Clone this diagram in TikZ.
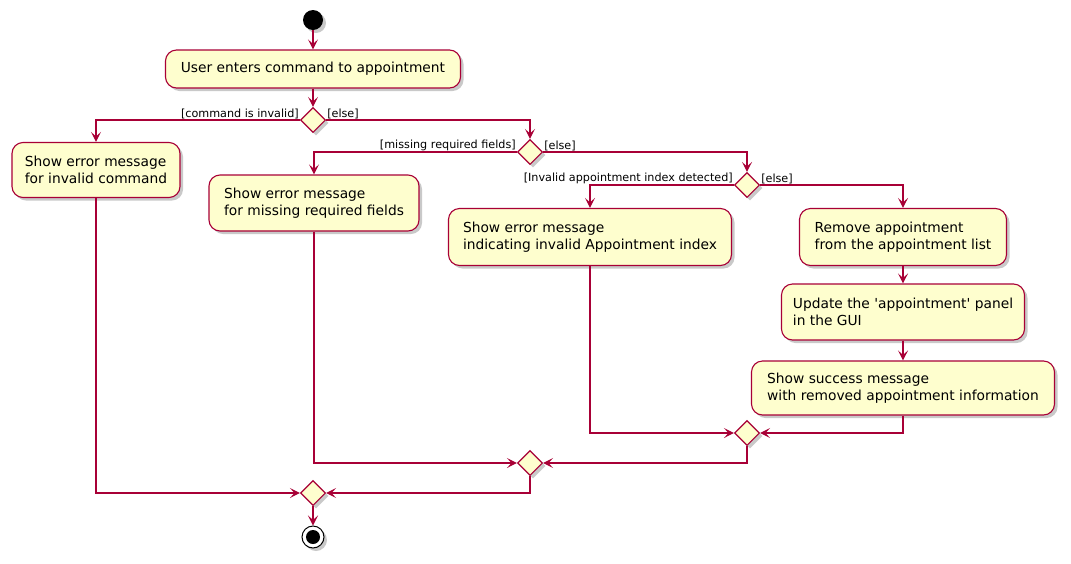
\documentclass[tikz,border=0pt]{standalone}
\usepackage{fontspec}
\setmainfont{DejaVu Sans}
\usetikzlibrary{shapes.geometric,arrows.meta,shadows,positioning}
\definecolor{umlred}{HTML}{A80036}
\definecolor{umlfill}{HTML}{FEFECE}
\tikzset{
  shad/.style={drop shadow={shadow xshift=3pt,shadow yshift=-3pt,opacity=0.35,fill=black!60}},
  actbox/.style={draw=umlred,fill=umlfill,line width=1.1pt,rounded corners=11pt,align=left,
     font=\fontsize{13.8}{17.5}\selectfont,inner sep=0pt,shad},
  dia/.style={diamond,draw=umlred,fill=umlfill,line width=1.1pt,minimum width=25pt,minimum height=25pt,inner sep=0pt,aspect=1,shad},
  lbl/.style={font=\fontsize{11.2}{13}\selectfont,inner sep=1pt},
  arr/.style={draw=umlred,line width=1.2pt,-{Stealth[length=10pt,width=10pt,inset=4.5pt]}},
}
\begin{document}
\begin{tikzpicture}[x=1pt,y=-1pt]
\useasboundingbox (0,0) rectangle (1071,563);
\fill[white] (0,0) rectangle (1071,563);
\node[circle,fill=black,minimum size=20pt,inner sep=0pt,shad] (start) at (313,20) {};
\node[actbox,minimum width=295pt,minimum height=38pt] (b1) at (313,69) {User enters command to appointment};
\node[dia] (d1) at (313,120) {};
\node[actbox,minimum width=168pt,minimum height=55pt] (einv) at (96,170) {Show error message\\for invalid command};
\node[dia] (d2) at (530,152) {};
\node[actbox,minimum width=210pt,minimum height=56pt] (emiss) at (314,203) {Show error message\\for missing required fields};
\node[dia] (d3) at (747,185) {};
\node[actbox,minimum width=283pt,minimum height=57pt] (eidx) at (590,237) {Show error message\\indicating invalid Appointment index};
\node[actbox,minimum width=207pt,minimum height=57pt] (rem) at (903,237) {Remove appointment\\from the appointment list};
\node[actbox,minimum width=243pt,minimum height=56pt] (upd) at (903,312) {Update the \textquotesingle appointment\textquotesingle\ panel\\in the GUI};
\node[actbox,minimum width=303pt,minimum height=54pt] (succ) at (903,388) {Show success message\\with removed appointment information};
\node[dia] (m3) at (747,433) {};
\node[dia] (m2) at (530,463) {};
\node[dia] (m1) at (313,493) {};
\node[circle,draw=black,line width=1pt,fill=white,minimum size=22pt,inner sep=0pt,shad] (stop) at (313,537) {};
\node[circle,fill=black,minimum size=14pt,inner sep=0pt] (stopin) at (313,537) {};
% edges
\draw[arr] (start) -- (b1);
\draw[arr] (b1) -- (d1);
\draw[arr] (d1.west) -| (einv.north);
\draw[arr] (d1.east) -| (d2.north);
\node[lbl,anchor=south east] at (d1.west) {[command is invalid]};
\node[lbl,anchor=south west] at (d1.east) {[else]};
\draw[arr] (d2.west) -| (emiss.north);
\draw[arr] (d2.east) -| (d3.north);
\node[lbl,anchor=south east] at (d2.west) {[missing required fields]};
\node[lbl,anchor=south west] at (d2.east) {[else]};
\draw[arr] (d3.west) -| (eidx.north);
\draw[arr] (d3.east) -| (rem.north);
\node[lbl,anchor=south east] at (d3.west) {[Invalid appointment index detected]};
\node[lbl,anchor=south west] at (d3.east) {[else]};
\draw[arr] (rem) -- (upd);
\draw[arr] (upd) -- (succ);
\draw[arr] (eidx.south) |- (m3.west);
\draw[arr] (succ.south) |- (m3.east);
\draw[arr] (emiss.south) |- (m2.west);
\draw[arr] (m3.south) |- (m2.east);
\draw[arr] (einv.south) |- (m1.west);
\draw[arr] (m2.south) |- (m1.east);
\draw[arr] (m1) -- (stop);
\end{tikzpicture}
\end{document}
